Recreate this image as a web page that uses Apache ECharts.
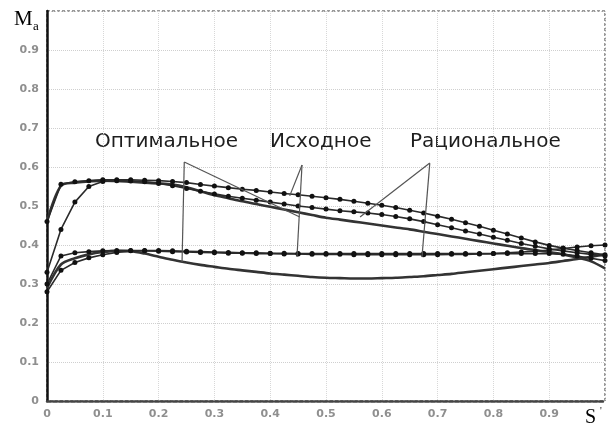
<!DOCTYPE html>
<html>
<head>
<meta charset="utf-8">
<script src="https://cdn.jsdelivr.net/npm/echarts@6/dist/echarts.min.js"></script>
<style>
  html, body { margin: 0; padding: 0; background: #fff; }
  #chart { width: 609px; height: 430px; }
</style>
</head>
<body>
<div id="chart"></div>
<script>
// relative coordinate S along the profile
const sPoints = [0, 0.025, 0.05, 0.075, 0.1, 0.125, 0.15, 0.175, 0.2, 0.225, 0.25, 0.275, 0.3, 0.325, 0.35, 0.375, 0.4, 0.425, 0.45, 0.475, 0.5,
  0.525, 0.55, 0.575, 0.6, 0.625, 0.65, 0.675, 0.7, 0.725, 0.75, 0.775, 0.8, 0.825, 0.85, 0.875, 0.9, 0.925, 0.95, 0.975, 1.0]

// upper surface (Ma ~ 0.55)
const initialUpper = [0.46, 0.556, 0.562, 0.565, 0.567, 0.567, 0.567, 0.566, 0.565, 0.563, 0.56, 0.555, 0.551, 0.547, 0.543, 0.54, 0.536, 0.532, 0.529, 0.525, 0.521,
  0.517, 0.512, 0.507, 0.502, 0.496, 0.489, 0.482, 0.474, 0.466, 0.457, 0.448, 0.438, 0.428, 0.418, 0.408, 0.399, 0.392, 0.386, 0.38, 0.375]
const rationalUpper = [0.33, 0.44, 0.51, 0.55, 0.563, 0.565, 0.564, 0.562, 0.558, 0.552, 0.545, 0.538, 0.531, 0.525, 0.52, 0.515, 0.51, 0.505, 0.5, 0.496, 0.492,
  0.488, 0.485, 0.482, 0.478, 0.473, 0.467, 0.46, 0.452, 0.444, 0.436, 0.428, 0.42, 0.412, 0.404, 0.397, 0.39, 0.385, 0.38, 0.376, 0.372]
const optimalUpper = [0.46, 0.552, 0.56, 0.563, 0.565, 0.564, 0.562, 0.56, 0.558, 0.555, 0.548, 0.538, 0.528, 0.52, 0.512, 0.505, 0.498, 0.491, 0.484, 0.477, 0.47,
  0.465, 0.46, 0.455, 0.45, 0.445, 0.44, 0.434, 0.428, 0.422, 0.416, 0.41, 0.404, 0.398, 0.392, 0.387, 0.382, 0.376, 0.368, 0.358, 0.34]

// lower surface (Ma ~ 0.37)
const initialLower = [0.30, 0.372, 0.38, 0.383, 0.385, 0.386, 0.386, 0.385, 0.384, 0.383, 0.382, 0.381, 0.38, 0.379, 0.379, 0.378, 0.378, 0.377, 0.377, 0.376, 0.376,
  0.376, 0.375, 0.375, 0.375, 0.375, 0.375, 0.375, 0.375, 0.376, 0.376, 0.377, 0.378, 0.38, 0.382, 0.384, 0.387, 0.391, 0.395, 0.398, 0.40]
const rationalLower = [0.28, 0.335, 0.355, 0.367, 0.375, 0.381, 0.385, 0.386, 0.386, 0.385, 0.384, 0.383, 0.382, 0.381, 0.38, 0.38, 0.379, 0.379, 0.378, 0.378, 0.378,
  0.378, 0.378, 0.378, 0.378, 0.378, 0.378, 0.378, 0.378, 0.378, 0.378, 0.378, 0.378, 0.378, 0.378, 0.378, 0.378, 0.376, 0.372, 0.366, 0.36]
const optimalLower = [0.29, 0.35, 0.366, 0.376, 0.382, 0.385, 0.384, 0.378, 0.37, 0.362, 0.355, 0.349, 0.344, 0.339, 0.335, 0.331, 0.327, 0.324, 0.321, 0.318, 0.316,
  0.315, 0.314, 0.314, 0.315, 0.316, 0.318, 0.32, 0.323, 0.326, 0.33, 0.334, 0.338, 0.342, 0.346, 0.35, 0.354, 0.359, 0.364, 0.37, 0.376]

// leader lines from the captions to the curves, in data units [S, Ma]
const optimalLeaders = [[[0.246, 0.613], [0.453, 0.472]], [[0.246, 0.613], [0.242, 0.356]]]
const initialLeaders = [[[0.457, 0.605], [0.435, 0.526]], [[0.457, 0.605], [0.448, 0.369]]]
const rationalLeaders = [[[0.686, 0.610], [0.561, 0.472]], [[0.686, 0.610], [0.672, 0.369]]]

const pairs = ys => sPoints.map((s, i) => [s, ys[i]])

const chart = echarts.init(document.getElementById('chart'))

const dotted = (name, ys) => ({
  name,
  type: 'line',
  data: pairs(ys),
  symbol: 'circle',
  symbolSize: 5,
  showSymbol: true,
  itemStyle: { color: '#111' },
  lineStyle: { color: '#2a2a2a', width: 1.6 },
  z: 3
})

const solid = (name, ys) => ({
  name,
  type: 'line',
  data: pairs(ys),
  symbol: 'none',
  smooth: 0.3,
  lineStyle: { color: '#333', width: 2.6 },
  z: 2
})

const leaderData = optimalLeaders.concat(initialLeaders, rationalLeaders)
  .map(([a, b]) => [{ coord: a }, { coord: b }])

const optimalUpperSeries = solid('Оптимальное (верх)', optimalUpper)
optimalUpperSeries.markLine = {
  silent: true,
  symbol: 'none',
  animation: false,
  label: { show: false },
  lineStyle: { color: '#555', width: 1.2, type: 'solid' },
  data: leaderData
}

const tickLabel = {
  color: '#8f8f8f', fontSize: 11, fontWeight: 'bold', fontFamily: 'DejaVu Sans', margin: 8,
  formatter: v => (v >= 0.999 ? '' : String(+v.toFixed(1)))
}

const captionFont = '20px "DejaVu Sans"'

chart.setOption({
  animation: false,
  backgroundColor: '#fff',
  grid: {
    left: 47, right: 4, top: 11, bottom: 29,
    show: true,
    borderColor: '#9a9a9a',
    borderWidth: 2,
    borderType: [3, 2]
  },
  xAxis: {
    type: 'value',
    min: 0, max: 1, interval: 0.1,
    axisLine: { show: true, onZero: false, lineStyle: { color: '#444', width: 2.5, type: [4, 2] } },
    axisTick: { show: false },
    axisLabel: tickLabel,
    splitLine: { show: true, lineStyle: { color: '#d8d8d8', width: 1, type: 'dotted' } }
  },
  yAxis: {
    type: 'value',
    min: 0, max: 1, interval: 0.1,
    axisLine: { show: true, onZero: false, lineStyle: { color: '#111', width: 2.5 } },
    axisTick: { show: false },
    axisLabel: tickLabel,
    splitLine: { show: true, lineStyle: { color: '#cfcfcf', width: 1, type: 'dotted' } }
  },
  graphic: [
    { type: 'text', left: 14, top: 9, style: { text: 'M', font: '21px "Liberation Serif"', fill: '#000' } },
    { type: 'text', left: 33, top: 20, style: { text: 'a', font: '13px "Liberation Serif"', fill: '#000' } },
    { type: 'text', left: 585, top: 408, style: { text: 'S', font: '20px "Liberation Serif"', fill: '#000' } },
    { type: 'text', left: 600, top: 406, style: { text: '\'', font: '10px "Liberation Serif"', fill: '#000' } },
    { type: 'text', left: 95, top: 132, style: { text: 'Оптимальное', font: captionFont, fill: '#1e1e1e' } },
    { type: 'text', left: 270, top: 132, style: { text: 'Исходное', font: captionFont, fill: '#1e1e1e' } },
    { type: 'text', left: 410, top: 132, style: { text: 'Рациональное', font: captionFont, fill: '#1e1e1e' } }
  ],
  series: [
    dotted('Исходное (верх)', initialUpper),
    dotted('Рациональное (верх)', rationalUpper),
    optimalUpperSeries,
    dotted('Исходное (низ)', initialLower),
    dotted('Рациональное (низ)', rationalLower),
    solid('Оптимальное (низ)', optimalLower)
  ]
})
</script>
</body>
</html>
